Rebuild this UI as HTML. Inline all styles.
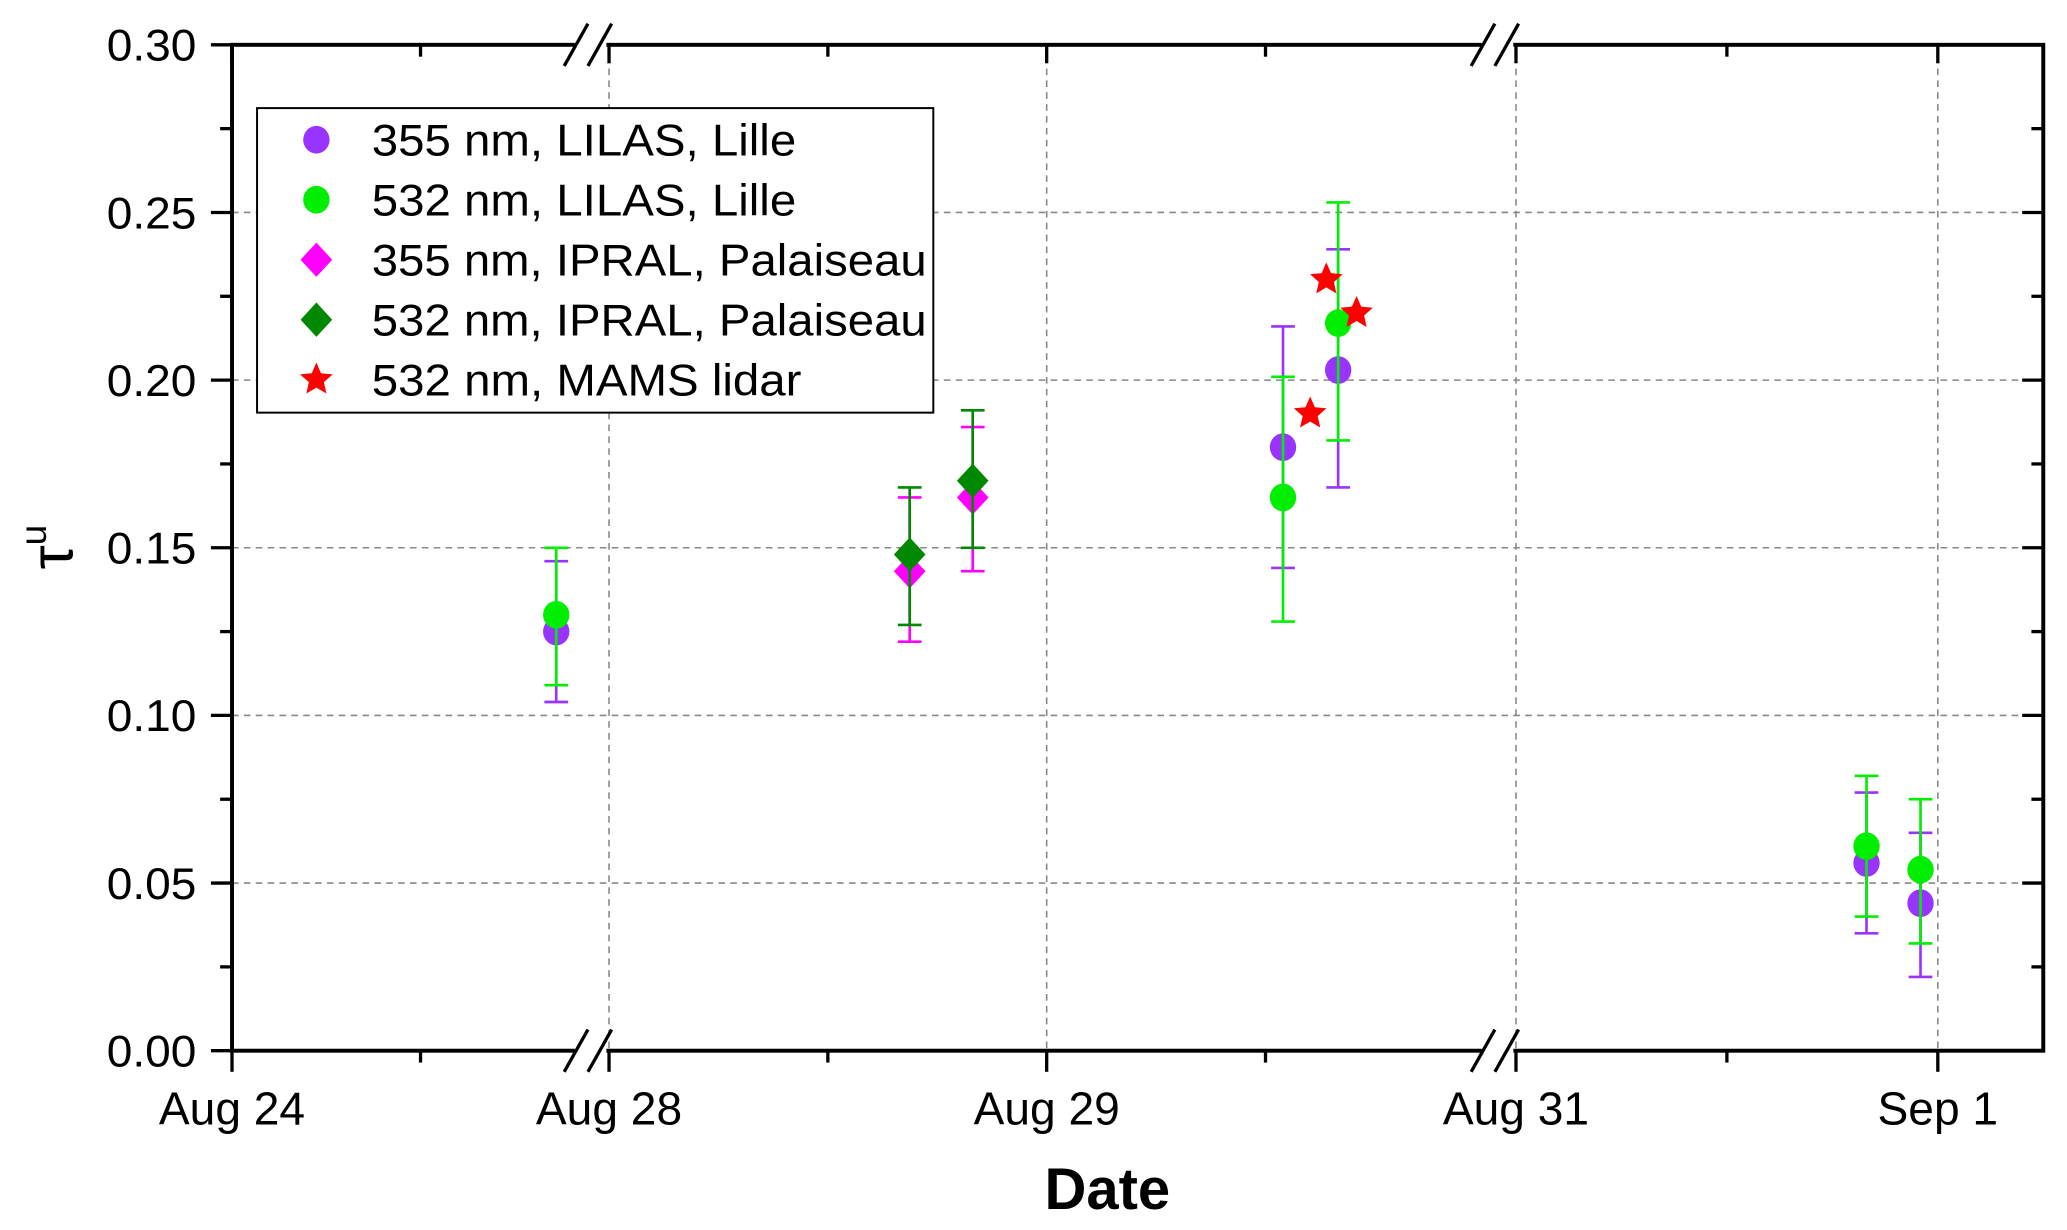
<!DOCTYPE html>
<html><head><meta charset="utf-8"><style>
html,body{margin:0;padding:0;background:#fff;}
svg{display:block;}
text{font-family:"Liberation Sans",sans-serif;}
</style></head><body>
<svg id="chart" width="2067" height="1230" viewBox="0 0 1568 933" preserveAspectRatio="none" xmlns="http://www.w3.org/2000/svg">
<g id="grid"></g>
<g id="marks"></g>
<g id="axes"></g>
<text x="840" y="917" text-anchor="middle" font-size="44" font-weight="bold">Date</text>
<g transform="translate(55,415) rotate(-90)"><text x="0" y="0" text-anchor="middle" font-size="46" font-family="DejaVu Sans, sans-serif">τ<tspan font-size="28" dy="-20">u</tspan></text></g>
<g id="legend">
<rect x="195" y="82" width="513" height="231" fill="#fff" stroke="#000" stroke-width="1.5"/>
</g>
</svg>
<script>
// ---- data ----
const yTicks = [0.00,0.05,0.10,0.15,0.20,0.25,0.30];
const yTickLabels = ["0.00","0.05","0.10","0.15","0.20","0.25","0.30"];
const xTickDays = [0,4,5,7,8];
const xTickLabels = ["Aug 24","Aug 28","Aug 29","Aug 31","Sep 1"];
const xMinorDays = [2,4.5,5.5,7.5];
// days since Aug 24
const lilas355X = [3.44,5.54,5.666,7.831,7.959];
const lilas355Y = [0.125,0.180,0.203,0.056,0.044];
const lilas355Lo = [0.104,0.144,0.168,0.035,0.022];
const lilas355Hi = [0.146,0.216,0.239,0.077,0.065];
const lilas532X = [3.44,5.54,5.666,7.831,7.959];
const lilas532Y = [0.130,0.165,0.217,0.061,0.054];
const lilas532Lo = [0.109,0.128,0.182,0.040,0.032];
const lilas532Hi = [0.150,0.201,0.253,0.082,0.075];
const ipral355X = [4.687,4.831];
const ipral355Y = [0.143,0.165];
const ipral355Lo = [0.122,0.143];
const ipral355Hi = [0.165,0.186];
const ipral532X = [4.687,4.831];
const ipral532Y = [0.148,0.170];
const ipral532Lo = [0.127,0.150];
const ipral532Hi = [0.168,0.191];
const mamsX = [5.602,5.639,5.708];
const mamsY = [0.190,0.230,0.220];
const legendLabels = ["355 nm, LILAS, Lille","532 nm, LILAS, Lille","355 nm, IPRAL, Palaiseau","532 nm, IPRAL, Palaiseau","532 nm, MAMS lidar"];

// ---- axes ----
const L=176,R=1550,T=34,B=797;
function yS(v){return B-(v/0.30)*(B-T);}
function xS(d){
  if(d<=4.05) return 176+(d)*71.5;
  if(d<=6.1) return 462+(d-4)*332;
  return 1134+(d-6.95)*320;
}
const NS='http://www.w3.org/2000/svg';
function mk(tag,attrs,parent){const e=document.createElementNS(NS,tag);for(const k in attrs)e.setAttribute(k,attrs[k]);parent.appendChild(e);return e;}
const grid=document.getElementById('grid'),marks=document.getElementById('marks'),axes=document.getElementById('axes'),legend=document.getElementById('legend');

yTicks.forEach((v,i)=>{
  const y=yS(v);
  if(v>0&&v<0.3){const g=mk('line',{x1:L,x2:R,y1:y,y2:y,stroke:'#888','stroke-width':1.2,'stroke-dasharray':'5,4'},grid);
  
  }
  mk('line',{x1:L-16,x2:L,y1:y,y2:y,stroke:'#000','stroke-width':2.5},axes);
  mk('line',{x1:R-16,x2:R,y1:y,y2:y,stroke:'#000','stroke-width':2.5},axes);
  const t=mk('text',{x:L-27,y:y+12,'text-anchor':'end','font-size':34,textLength:68,lengthAdjust:'spacingAndGlyphs'},axes);
  t.textContent=yTickLabels[i];
  
  
  if(i<yTicks.length-1){const ym=yS(v+0.025);
    mk('line',{x1:L-9,x2:L,y1:ym,y2:ym,stroke:'#000','stroke-width':2.5},axes);
    mk('line',{x1:R-9,x2:R,y1:ym,y2:ym,stroke:'#000','stroke-width':2.5},axes);}
});
xTickDays.forEach((d,i)=>{
  const x=xS(d);
  if(i>0){const g=mk('line',{x1:x,x2:x,y1:T,y2:B,stroke:'#888','stroke-width':1.2,'stroke-dasharray':'5,4'},grid);
  
  }
  mk('line',{x1:x,x2:x,y1:B,y2:B+16,stroke:'#000','stroke-width':2.5},axes);
  mk('line',{x1:x,x2:x,y1:T,y2:T+14,stroke:'#000','stroke-width':2.5},axes);
  const t=mk('text',{x:x,y:B+56,'text-anchor':'middle','font-size':35},axes);
  t.textContent=xTickLabels[i];
  
  
});
xMinorDays.forEach(d=>{const x=xS(d);
  mk('line',{x1:x,x2:x,y1:B,y2:B+9,stroke:'#000','stroke-width':2.5},axes);
  mk('line',{x1:x,x2:x,y1:T,y2:T+9,stroke:'#000','stroke-width':2.5},axes);});
mk('rect',{x:L,y:T,width:R-L,height:B-T,fill:'none',stroke:'#000','stroke-width':3},axes);
[[450],[1138]].forEach(([bx])=>{
  [T,B].forEach(yy=>{
    mk('polygon',{points:`${bx-14},${yy-4} ${bx+10},${yy-4} ${bx+10},${yy+4} ${bx-14},${yy+4}`,fill:'#fff'},axes);
    mk('line',{x1:bx-22,x2:bx-4,y1:yy+16,y2:yy-16,stroke:'#000','stroke-width':2.5},axes);
    mk('line',{x1:bx-4,x2:bx+14,y1:yy+16,y2:yy-16,stroke:'#000','stroke-width':2.5},axes);
  });
});

// ---- marks ----
function errbars(xs,lo,hi,color,name){
  xs.forEach((d,i)=>{const x=xS(d);
    const g=mk('g',{stroke:color,'stroke-width':2},marks);
    
    
    mk('line',{x1:x,x2:x,y1:yS(lo[i]),y2:yS(hi[i])},g);
    mk('line',{x1:x-9,x2:x+9,y1:yS(lo[i]),y2:yS(lo[i])},g);
    mk('line',{x1:x-9,x2:x+9,y1:yS(hi[i]),y2:yS(hi[i])},g);});
}
function circle(x,y,color,p){return mk('ellipse',{cx:x,cy:y,rx:10,ry:10.5,fill:color},p);}
function diamond(x,y,color,p){return mk('polygon',{points:`${x},${y-13} ${x+12},${y} ${x},${y+13} ${x-12},${y}`,fill:color},p);}
function star(x,y,color,p){let pts=[];for(let k=0;k<10;k++){const r=k%2?6:13;const a=-Math.PI/2+k*Math.PI/5;pts.push((x+r*Math.cos(a)).toFixed(1)+','+(y+r*Math.sin(a)).toFixed(1));}
  return mk('polygon',{points:pts.join(' '),fill:color},p);}

errbars(lilas355X,lilas355Lo,lilas355Hi,'#9933ff','errorbar-355-lilas');
errbars(ipral355X,ipral355Lo,ipral355Hi,'#ff00ff','errorbar-355-ipral');
lilas355X.forEach((d,i)=>{const e=circle(xS(d),yS(lilas355Y[i]),'#9933ff',marks);
  
  });
ipral355X.forEach((d,i)=>{const e=diamond(xS(d),yS(ipral355Y[i]),'#ff00ff',marks);
  
  });
errbars(ipral532X,ipral532Lo,ipral532Hi,'#008800','errorbar-532-ipral');
ipral532X.forEach((d,i)=>{const e=diamond(xS(d),yS(ipral532Y[i]),'#008800',marks);
  
  });
errbars(lilas532X,lilas532Lo,lilas532Hi,'#00ee00','errorbar-532-lilas');
lilas532X.forEach((d,i)=>{const e=circle(xS(d),yS(lilas532Y[i]),'#00ee00',marks);
  
  });
mamsX.forEach((d,i)=>{const e=star(xS(d),yS(mamsY[i]),'#ff0000',marks);
  
  });

// ---- legend ----
const lcol=['#9933ff','#00ee00','#ff00ff','#008800','#ff0000'];
const lfn=[circle,circle,diamond,diamond,star];
const lwid=[322,322,421,421,326];
legendLabels.forEach((s,i)=>{const y=106+i*45.5;
  const g=mk('g',{},legend);
  
  
  lfn[i](240,y,lcol[i],g);
  const t=mk('text',{x:282,y:y+12,'font-size':34,textLength:lwid[i],lengthAdjust:'spacingAndGlyphs'},g);t.textContent=s;});
</script>
</body></html>
